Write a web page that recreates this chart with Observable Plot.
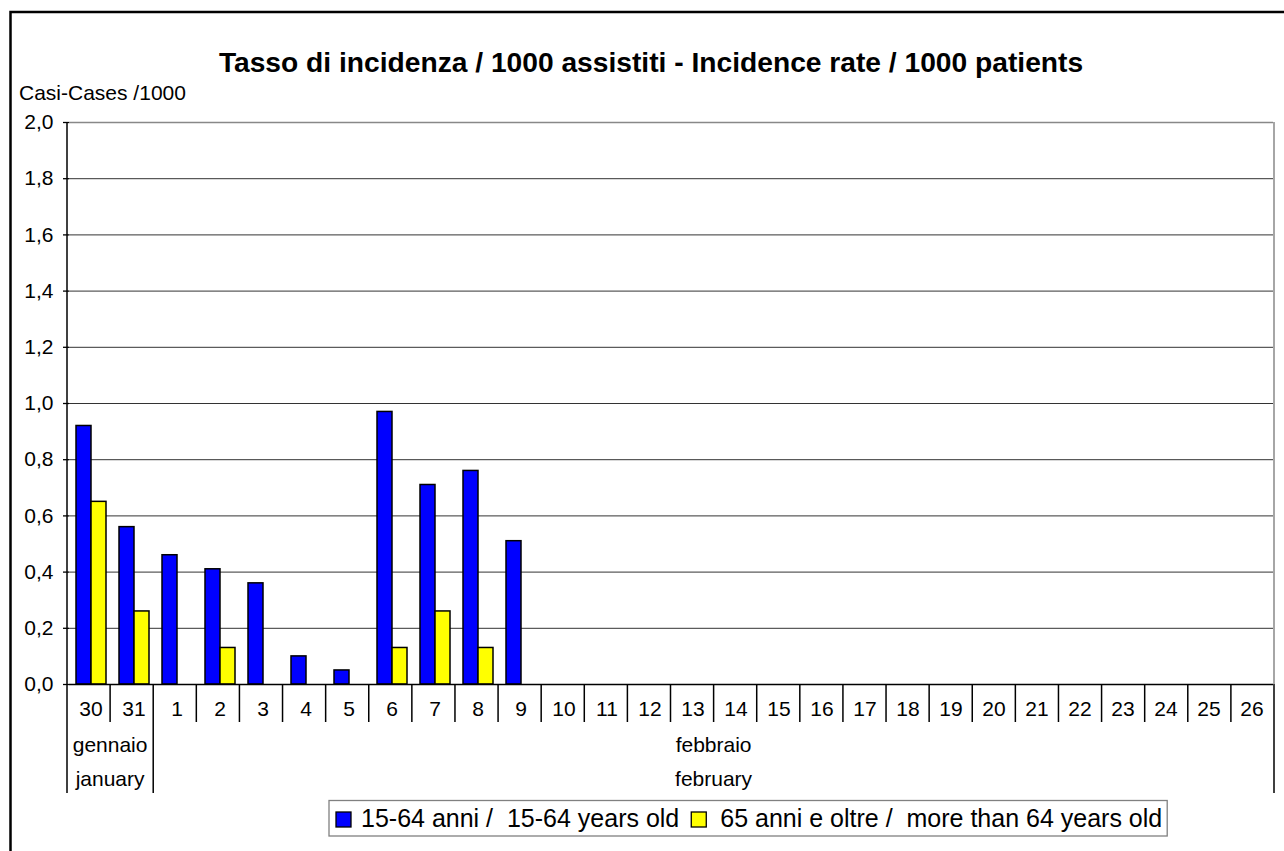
<!DOCTYPE html>
<html><head><meta charset="utf-8">
<script src="https://cdn.jsdelivr.net/npm/d3@7"></script>
<script src="https://cdn.jsdelivr.net/npm/@observablehq/plot@0.6"></script>
<style>
html,body{margin:0;padding:0;background:#fff;}
#chart{position:relative;width:1284px;height:851px;overflow:hidden;}
#chart svg text{font-family:"Liberation Sans",Arial,sans-serif;}
</style></head>
<body><div id="chart"></div>
<script>
// ---- data ----
const days = ["30","31","1","2","3","4","5","6","7","8","9","10","11","12","13","14","15","16","17","18","19","20","21","22","23","24","25","26"];
const seriesNames = ["15-64 anni /  15-64 years old", "65 anni e oltre /  more than 64 years old"];
const seriesColors = ["#0000FF", "#FFFF00"];
const values1564 = [0.92, 0.56, 0.46, 0.41, 0.36, 0.10, 0.05, 0.97, 0.71, 0.76, 0.51];
const values65   = [0.65, 0.26, null, 0.13, null, null, null, 0.13, 0.26, 0.13, null];
const yTicks = [0, 0.2, 0.4, 0.6, 0.8, 1.0, 1.2, 1.4, 1.6, 1.8, 2.0];
const monthsIt = ["gennaio", "febbraio"];
const monthsEn = ["january", "february"];
const monthFirstDay = ["30", "1"];
const monthLastDay = ["31", "26"];
const titleText = "Tasso di incidenza / 1000 assistiti - Incidence rate / 1000 patients";
const yLabelText = "Casi-Cases /1000";

const rows = [];
days.forEach((d, i) => {
  [values1564, values65].forEach((arr, s) => {
    const v = arr[i];
    if (v != null) rows.push({day: d, series: seriesNames[s], value: v});
  });
});

const fmt = t => t.toFixed(1).replace(".", ",");

const chart = Plot.plot({
  width: 1284, height: 851,
  marginLeft: 67, marginRight: 10, marginTop: 122, marginBottom: 167,
  style: {fontFamily: "Liberation Sans, Arial, sans-serif", background: "#fff", color: "#000", overflow: "visible"},
  fx: {domain: days, padding: 0, label: null},
  x: {domain: seriesNames, paddingInner: 0, paddingOuter: 0.41, axis: null},
  y: {domain: [0, 2], label: null},
  color: {domain: seriesNames, range: seriesColors},
  marks: [
    Plot.gridY(yTicks.filter(t => t > 0 && t < 2), {stroke: "#333", strokeOpacity: 1, strokeWidth: 1}),
    Plot.ruleY([2], {stroke: "#888", strokeWidth: 1.5}),
    Plot.barY(rows, {fx: "day", x: "series", y: "value", fill: "series", stroke: "#000", strokeWidth: 1.5}),
    // one baseline segment per day (keeps every facet present)
    Plot.ruleY(days, {fx: d => d, y: () => 0, stroke: "#000", strokeWidth: 1.5}),
    Plot.axisY({ticks: yTicks, tickFormat: fmt, tickSize: 6, tickPadding: 10, fontSize: 21, label: null, strokeWidth: 1.3}),
    Plot.axisFx({anchor: "bottom", tickSize: 0, tickPadding: 17, fontSize: 21, label: null})
  ]
});
document.getElementById("chart").appendChild(chart);

// ---- decorations derived from the scales ----
const svg = d3.select(chart);
const fxS = chart.scale("fx");
const yS = chart.scale("y");
const band = d3.scaleBand(fxS.domain, fxS.range).padding(0);
const bw = band.bandwidth();
const y0 = yS.apply(0), yTop = yS.apply(2);
const xLeft = band(days[0]), xRight = band(days[days.length - 1]) + bw;
const ff = "Liberation Sans, Arial, sans-serif";

const g = svg.append("g").attr("text-anchor", "start");
// y axis line & right border
g.append("line").attr("x1", xLeft).attr("x2", xLeft).attr("y1", yTop).attr("y2", y0).attr("stroke", "#000").attr("stroke-width", 1.5);
g.append("line").attr("x1", xRight).attr("x2", xRight).attr("y1", yTop).attr("y2", y0).attr("stroke", "#888").attr("stroke-width", 1.5);

// category separators
for (let i = 0; i <= days.length; i++) {
  const x = i < days.length ? band(days[i]) : xRight;
  const isMonth = i === days.length || monthFirstDay.includes(days[i]);
  g.append("line").attr("x1", x).attr("x2", x).attr("y1", y0).attr("y2", y0 + (isMonth ? 109 : 38))
    .attr("stroke", "#000").attr("stroke-width", 1.5);
}
// month labels
monthsIt.forEach((m, k) => {
  const cx = (band(monthFirstDay[k]) + band(monthLastDay[k]) + bw) / 2;
  g.append("text").attr("x", cx).attr("y", y0 + 68).attr("text-anchor", "middle").attr("font-size", 21).attr("font-family", ff).text(m);
  g.append("text").attr("x", cx).attr("y", y0 + 102).attr("text-anchor", "middle").attr("font-size", 21).attr("font-family", ff).text(monthsEn[k]);
});

// outer frame (left & top edges)
g.append("path").attr("d", `M10.5,851 V12 H1284`).attr("fill", "none").attr("stroke", "#000").attr("stroke-width", 2.5);

// title and y label
g.append("text").attr("x", 651).attr("y", 72).attr("text-anchor", "middle").attr("font-size", 28.2).attr("font-weight", "bold").attr("font-family", ff).text(titleText);
g.append("text").attr("x", 19).attr("y", 100).attr("text-anchor", "start").attr("font-size", 21).attr("font-family", ff).text(yLabelText);

// legend
const lg = svg.append("g").attr("text-anchor", "start");
const legRect = lg.append("rect").attr("x", 329).attr("y", 800.5).attr("height", 35.5).attr("fill", "#fff").attr("stroke", "#808080").attr("stroke-width", 1.3);
let cx = 336;
const gaps = [10, 14];
seriesNames.forEach((name, s) => {
  lg.append("rect").attr("x", cx).attr("y", 812).attr("width", 15).attr("height", 15).attr("fill", seriesColors[s]).attr("stroke", "#000").attr("stroke-width", 1.3);
  cx += 15 + gaps[s];
  const t = lg.append("text").attr("x", cx).attr("y", 827).attr("text-anchor", "start").attr("font-size", 25).attr("font-family", ff).style("white-space", "pre").text(name);
  cx += t.node().getComputedTextLength() + 12;
});
legRect.attr("width", cx - 12 + 5 - 329);
</script>
</body></html>
